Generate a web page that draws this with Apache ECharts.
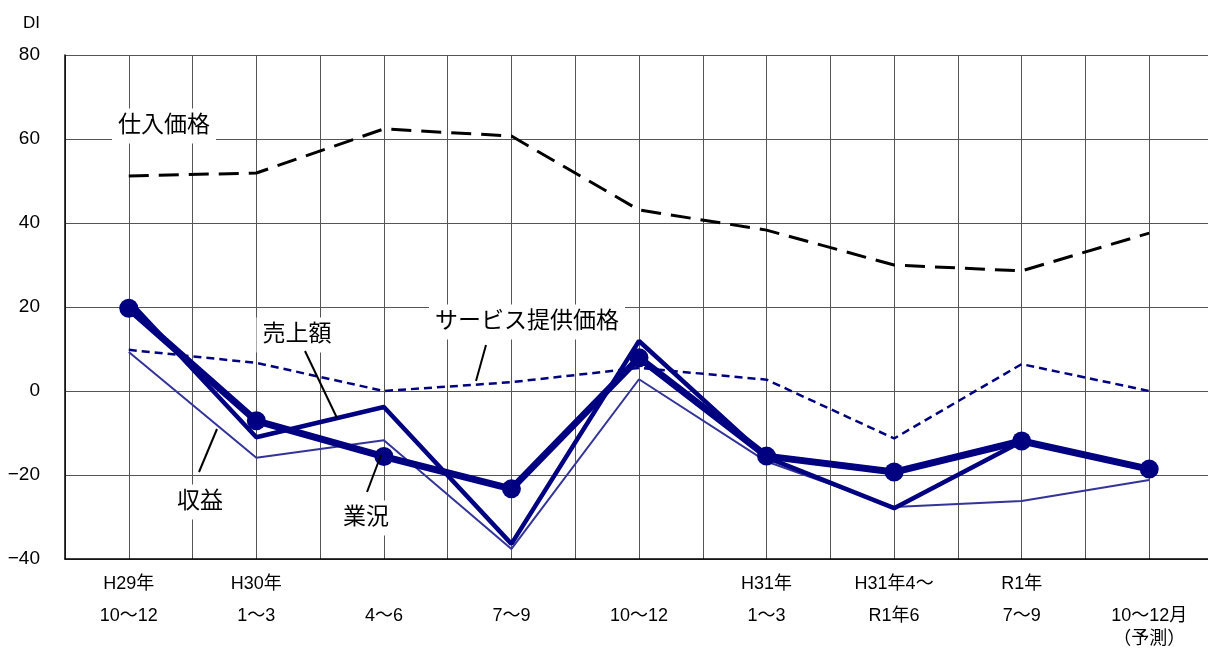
<!DOCTYPE html>
<html>
<head>
<meta charset="utf-8">
<script src="https://cdn.jsdelivr.net/npm/echarts@6/dist/echarts.min.js"></script>
<style>
  html, body { margin: 0; padding: 0; background: #fff; }
  #chart { width: 1208px; height: 655px; }
</style>
</head>
<body>
<div id="chart"></div>
<script>
// periods (last one is the forecast)
const categories = [
  'H29年\n10〜12', 'H30年\n1〜3', ' \n4〜6', ' \n7〜9', ' \n10〜12',
  'H31年\n1〜3', 'H31年4〜\nR1年6', 'R1年\n7〜9', ' \n10〜12月\n（予測）'
]
const gyokyo = [19.7, -7.1, -15.6, -23.3, 7.9, -15.5, -19.3, -11.9, -18.6]
const uriage = [21.5, -11.0, -3.8, -36.4, 11.9, -15.8, -27.9, -12.0, -18.6]
const shueki = [9.3, -15.9, -11.7, -37.6, 2.8, -16.8, -27.6, -26.2, -21.2]
const service = [9.8, 6.7, 0.0, 2.1, 5.5, 2.7, -11.3, 6.4, 0.0]
const shiire = [51.2, 51.9, 62.4, 60.7, 43.1, 38.3, 30.0, 28.6, 37.6]
const yTicks = { min: -40, max: 80, interval: 20 }

const FONT = '"Liberation Sans", "Noto Sans CJK JP", sans-serif'
const NAVY = '#000080'

const chart = echarts.init(document.getElementById('chart'))

function note(text, cx, cy) {
  return {
    type: 'text',
    x: cx,
    y: cy,
    z: 100,
    style: {
      text,
      fontSize: 23,
      fontFamily: FONT,
      fill: '#000',
      align: 'center',
      verticalAlign: 'middle',
      backgroundColor: '#fff',
      padding: [6, 6, 6, 6],
    },
  }
}

function leader(x1, y1, x2, y2) {
  return {
    type: 'line',
    z: 100,
    shape: { x1, y1, x2, y2 },
    style: { stroke: '#000', lineWidth: 2 },
  }
}

const option = {
  backgroundColor: '#fff',
  animation: false,
  textStyle: { fontFamily: FONT },
  // plot runs a little past the right edge of the picture
  grid: { left: 65, top: 55, width: 1148, bottom: 96, outerBoundsMode: 'none', containLabel: false },
  xAxis: [
    {
      type: 'category',
      data: categories,
      boundaryGap: true,
      axisLine: { show: true, onZero: false, lineStyle: { color: '#000', width: 1.5 } },
      axisTick: { show: false },
      splitLine: { show: false },
      axisLabel: {
        interval: 0,
        margin: 9,
        fontSize: 18,
        lineHeight: 32,
        color: '#000',
        formatter: (v) => {
          const lines = v.split('\n')
          if (lines.length === 3) {
            return lines[0] + '\n' + lines[1] + '\n{p|' + lines[2] + '}'
          }
          return v
        },
        rich: { p: { fontSize: 18, lineHeight: 14, color: '#000' } },
      },
    },
    {
      // half-period vertical grid lines
      type: 'value',
      min: 0,
      max: 18,
      interval: 1,
      axisLine: { show: false },
      axisTick: { show: false },
      axisLabel: { show: false },
      splitLine: { show: true, lineStyle: { color: '#555', width: 1 } },
    },
  ],
  yAxis: {
    type: 'value',
    min: yTicks.min,
    max: yTicks.max,
    interval: yTicks.interval,
    axisLine: { show: true, onZero: false, lineStyle: { color: '#000', width: 1.5 } },
    axisTick: { show: false },
    splitLine: { show: true, lineStyle: { color: '#555', width: 1 } },
    axisLabel: {
      margin: 25,
      fontSize: 19,
      color: '#000',
      formatter: v => (v < 0 ? '\u2212' + (-v) : String(v)),
    },
  },
  series: [
    {
      name: '仕入価格',
      type: 'line',
      data: shiire,
      symbol: 'none',
      lineStyle: { color: '#000', width: 3, type: [20, 10] },
      z: 2,
    },
    {
      name: 'サービス提供価格',
      type: 'line',
      data: service,
      symbol: 'none',
      lineStyle: { color: NAVY, width: 2.5, type: [8, 5] },
      z: 3,
    },
    {
      name: '収益',
      type: 'line',
      data: shueki,
      symbol: 'none',
      lineStyle: { color: '#333399', width: 2 },
      z: 4,
    },
    {
      name: '売上額',
      type: 'line',
      data: uriage,
      symbol: 'none',
      lineStyle: { color: NAVY, width: 4.5 },
      z: 5,
    },
    {
      name: '業況',
      type: 'line',
      data: gyokyo,
      symbol: 'circle',
      symbolSize: 19,
      itemStyle: { color: NAVY },
      lineStyle: { color: NAVY, width: 7 },
      z: 6,
    },
  ],
  graphic: [
    {
      type: 'text',
      left: 23,
      top: 15,
      style: { text: 'DI', fontSize: 17, fontFamily: FONT, fill: '#000' },
    },
    note('仕入価格', 164, 126),
    note('サービス提供価格', 527, 322),
    note('売上額', 297, 335),
    note('収益', 200, 502),
    note('業況', 366, 518),
    leader(486, 345, 476, 381),
    leader(305, 351, 337, 418),
    leader(199, 472, 217, 429),
    leader(367, 492, 381, 455),
  ],
}

chart.setOption(option)
</script>
</body>
</html>
